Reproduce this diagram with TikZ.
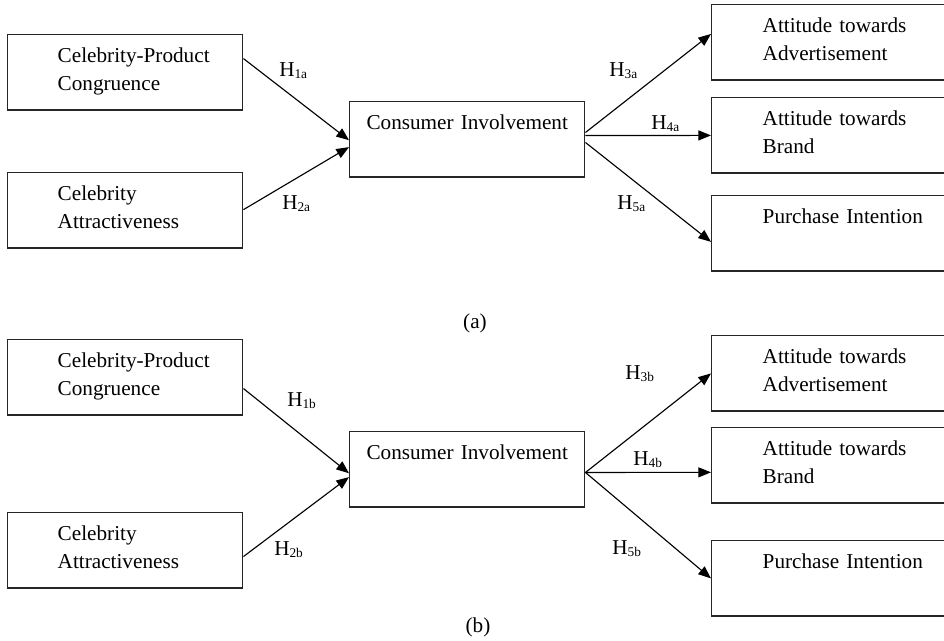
\documentclass[tikz,border=0pt]{standalone}
\usepackage{fontspec}
\setmainfont{Liberation Serif}
\usetikzlibrary{arrows.meta,calc}
\newcommand\sst{\rule[-0.35\baselineskip]{0pt}{\baselineskip}}
\newcommand\Hs[1]{H\raisebox{-1.8pt}{\fontsize{10}{10}\selectfont #1}}
\newcommand\lin{\hspace*{37.5pt}}
\newcommand\rin{\hspace*{38.25pt}}
\begin{document}
\begin{tikzpicture}[x=0.75pt,y=-0.75pt,
  every node/.style={font=\fontsize{15.9}{20.6}\selectfont},
  bx/.style={draw=black!85, line width=1.1pt, minimum height=56.5pt,
             inner xsep=0pt, inner ysep=0pt, anchor=north west},
  lbox/.style={bx, text width=176.25pt, align=left},
  rbox/.style={bx, text width=180pt, align=left},
  cbox/.style={bx, text width=176.25pt, align=center},
  arr/.style={line width=0.85pt, -{Triangle[length=9.5pt,width=7.5pt]}},
  hl/.style={anchor=base west, inner sep=0pt},
  captxt/.style={anchor=base, inner sep=0pt}]
\clip (0,0) rectangle (944,640);
% ---------- (a) ----------
\node[lbox] (cpcA) at (7,34) {\lin Celebrity-Product\sst\\\lin Congruence\sst};
\node[lbox] (caA) at (7,172) {\lin Celebrity\sst\\\lin Attractiveness\sst};
\node[cbox] (ciA) at (349,101) {Consumer Involvement\sst\\\mbox{}\sst};
\node[rbox] (adA) at (711,4) {\rin Attitude towards\sst\\\rin Advertisement\sst};
\node[rbox] (brA) at (711,97) {\rin Attitude towards\sst\\\rin Brand\sst};
\node[rbox] (piA) at (711,195) {\rin Purchase Intention\sst\\\mbox{}\sst};
\draw[arr] ($(cpcA.north east)!0.32!(cpcA.south east)$) -- ($(ciA.north west)!0.51!(ciA.south west)$);
\draw[arr] ($(caA.north east)!0.49!(caA.south east)$) -- ($(ciA.north west)!0.60!(ciA.south west)$);
\draw[arr] ($(ciA.north east)!0.41!(ciA.south east)$) -- ($(adA.north west)!0.39!(adA.south west)$);
\draw[arr] ($(ciA.north east)!0.45!(ciA.south east)$) -- ($(brA.north west)!0.50!(brA.south west)$);
\draw[arr] ($(ciA.north east)!0.54!(ciA.south east)$) -- ($(piA.north west)!0.61!(piA.south west)$);
\node[hl] (h1a) at (279,76) {\Hs{1a}};
\node[hl] (h2a) at (282,209) {\Hs{2a}};
\node[hl] (h3a) at (609,76) {\Hs{3a}};
\node[hl] (h4a) at (651,129) {\Hs{4a}};
\node[hl] (h5a) at (617,209) {\Hs{5a}};
\node[captxt] (capA) at (475,328) {(a)};
% ---------- (b) ----------
\node[lbox] (cpcB) at (7,339) {\lin Celebrity-Product\sst\\\lin Congruence\sst};
\node[lbox] (caB) at (7,512) {\lin Celebrity\sst\\\lin Attractiveness\sst};
\node[cbox] (ciB) at (349,431) {Consumer Involvement\sst\\\mbox{}\sst};
\node[rbox] (adB) at (711,335) {\rin Attitude towards\sst\\\rin Advertisement\sst};
\node[rbox] (brB) at (711,427) {\rin Attitude towards\sst\\\rin Brand\sst};
\node[rbox] (piB) at (711,540) {\rin Purchase Intention\sst\\\mbox{}\sst};
\draw[arr] ($(cpcB.north east)!0.645!(cpcB.south east)$) -- ($(ciB.north west)!0.55!(ciB.south west)$);
\draw[arr] ($(caB.north east)!0.58!(caB.south east)$) -- ($(ciB.north west)!0.60!(ciB.south west)$);
\draw[arr] ($(ciB.north east)!0.54!(ciB.south east)$) -- ($(adB.north west)!0.50!(adB.south west)$);
\draw[arr] ($(ciB.north east)!0.54!(ciB.south east)$) -- ($(brB.north west)!0.59!(brB.south west)$);
\draw[arr] ($(ciB.north east)!0.54!(ciB.south east)$) -- ($(piB.north west)!0.50!(piB.south west)$);
\node[hl] (h1b) at (287,406) {\Hs{1b}};
\node[hl] (h2b) at (274,555) {\Hs{2b}};
\node[hl] (h3b) at (625,379) {\Hs{3b}};
\node[hl] (h4b) at (633,465) {\Hs{4b}};
\node[hl] (h5b) at (612,554) {\Hs{5b}};
\node[captxt] (capB) at (478,632) {(b)};
\end{tikzpicture}
\end{document}
